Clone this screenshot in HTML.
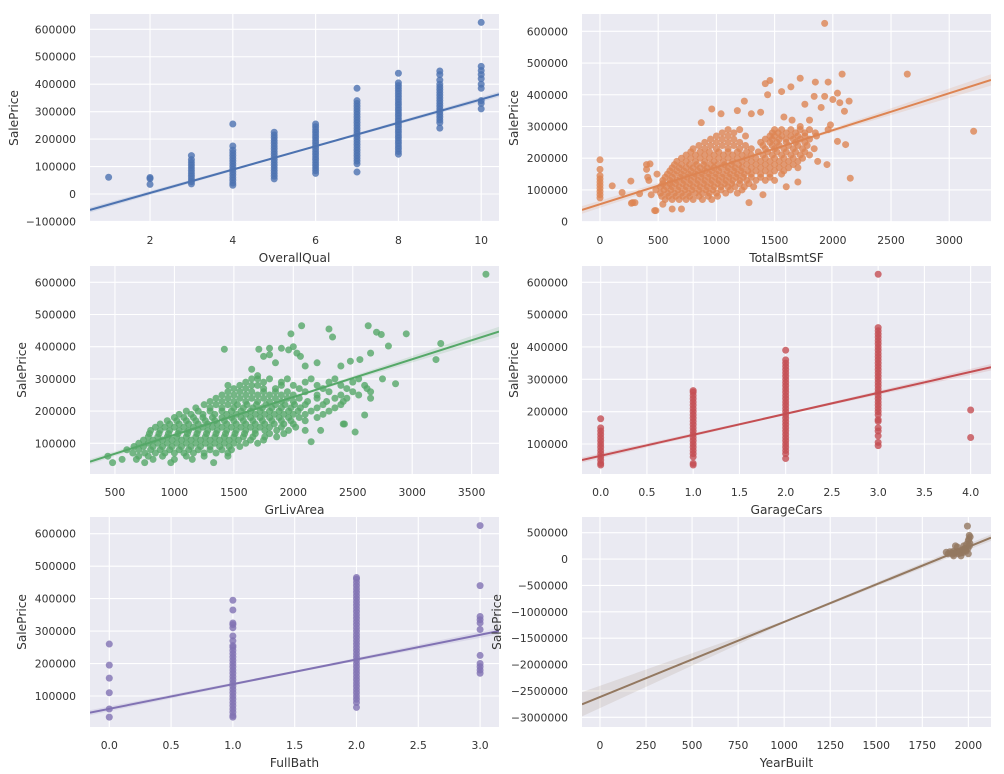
<!DOCTYPE html>
<html><head><meta charset="utf-8">
<style>
html,body{margin:0;padding:0;background:#fff;}
svg{display:block;font-family:"DejaVu Sans","Liberation Sans",sans-serif;}
</style></head>
<body>
<svg id="chart" width="1004" height="774" viewBox="0 0 1004 774"></svg>
<script>
// ---------- Data (prices in thousands) ----------
const qualLevels = [1,2,3,4,5,6,7,8,9,10];
const qualPricesK = [
 [61],
 [60,56,35],
 [37,45,55,65,75,85,95,105,115,125,140],
 [32,40,50,60,70,80,90,100,110,120,130,140,150,160,175,255],
 [55,65,75,85,95,105,115,125,135,145,155,165,175,185,195,205,215,225],
 [75,85,95,105,115,125,135,145,155,165,175,185,195,205,215,225,235,245,255],
 [80,110,120,130,140,150,160,170,180,190,200,210,220,230,240,250,260,270,280,290,300,310,320,330,340,385],
 [145,155,165,175,185,195,205,215,225,235,245,255,265,275,285,295,305,315,325,335,345,355,365,375,385,395,405,440],
 [240,260,270,280,290,300,310,320,330,340,350,360,370,380,390,400,415,435,448],
 [310,330,340,385,400,420,435,450,465,625]
];
const bsmtSF = [0,0,0,0,0,0,0,0,0,0,105,190,265,270,280,300,340,400,400,410,420,430,440,470,480,490,
 560,620,680,740,800,880,960,
 520,580,640,700,760,820,880,940,1000,1080,1180,
 520,570,620,680,740,800,860,920,980,1040,1100,1160,1240,1320,
 540,600,660,720,780,840,900,960,1020,1080,1140,1200,1260,1340,1420,1500,
 580,640,700,760,820,880,940,1000,1060,1120,1180,1240,1300,1380,1460,1560,
 620,680,740,800,860,920,980,1040,1100,1160,1220,1300,1380,1460,1540,1620,1700,
 660,740,820,900,980,1060,1140,1220,1300,1380,1460,1540,1620,1700,
 740,820,900,980,1060,1140,1220,1300,1400,1480,1560,1640,1720,1800,
 800,900,1000,1100,1200,1300,1420,1500,1580,1660,1740,1840,
 900,1000,1100,1200,1380,1460,1520,1600,1680,1760,
 1000,1100,1250,1460,1500,1560,1640,1700,1760,1860,
 1100,1200,1500,1560,1640,1720,1800,1960,
 870,960,1040,1180,1240,1300,1380,1420,1460,1440,1560,1580,1640,1720,1760,1840,1850,1900,1930,1960,2000,2040,2060,2080,2100,2140,1650,1800,1720,1980,
 1930,2640,3210,2150,2110,2040,1950,1870,1700,1600,1280,1400,700,620,480,540];
const bsmtPriceK = [75,85,95,105,115,125,135,145,165,195,113,92,128,58,60,60,88,180,165,140,130,182,85,35,100,150,
 70,70,70,70,70,70,70,
 90,90,90,90,90,90,90,90,90,90,90,
 110,110,110,110,110,110,110,110,110,110,110,110,110,110,
 130,130,130,130,130,130,130,130,130,130,130,130,130,130,130,130,
 150,150,150,150,150,150,150,150,150,150,150,150,150,150,150,150,
 170,170,170,170,170,170,170,170,170,170,170,170,170,170,170,170,170,
 190,190,190,190,190,190,190,190,190,190,190,190,190,190,
 210,210,210,210,210,210,210,210,210,210,210,210,210,210,
 230,230,230,230,230,230,230,230,230,230,230,230,
 250,250,250,250,250,250,250,250,250,250,
 270,270,270,270,270,270,270,270,270,270,
 290,290,290,290,290,290,290,290,
 312,355,340,350,380,340,345,435,445,400,410,330,425,452,370,395,440,360,395,440,385,405,375,465,348,380,320,320,300,305,
 625,465,285,137,243,253,180,190,125,110,60,85,40,40,35,55];
const bsmtSF2 = [530,590,650,710,770,850,930,1010,
 550,610,670,730,790,850,910,970,1040,1120,1220,
 540,600,650,710,770,830,890,950,1010,1070,1130,1200,1280,
 560,620,690,750,810,870,930,990,1050,1110,1170,1230,1300,1380,1460,
 600,660,720,780,840,900,960,1020,1090,1150,1210,1270,1340,1420,1500,1580,
 640,700,770,830,890,950,1010,1070,1130,1190,1260,1340,1420,1500,1580,1660,
 700,780,860,940,1020,1100,1180,1260,1340,1420,1500,1580,1660,1740,
 780,860,940,1020,1100,1180,1260,1360,1440,1520,1600,1680,1760,
 850,950,1050,1150,1250,1400,1480,1540,1620,1700,1780,
 950,1050,1150,1420,1480,1540,1600,1660,1720,1800,
 1050,1150,1480,1530,1600,1680,1760,1850];
const bsmtPriceK2 = [80,80,80,80,80,80,80,80,
 100,100,100,100,100,100,100,100,100,100,100,
 120,120,120,120,120,120,120,120,120,120,120,120,120,
 140,140,140,140,140,140,140,140,140,140,140,140,140,140,140,
 160,160,160,160,160,160,160,160,160,160,160,160,160,160,160,160,
 180,180,180,180,180,180,180,180,180,180,180,180,180,180,180,180,
 200,200,200,200,200,200,200,200,200,200,200,200,200,200,
 220,220,220,220,220,220,220,220,220,220,220,220,220,
 240,240,240,240,240,240,240,240,240,240,240,
 260,260,260,260,260,260,260,260,260,260,
 280,280,280,280,280,280,280,280];
const livArea = [480,750,970,1330,
 440,700,780,900,1100,1250,1450,
 600,700,800,880,960,1040,1120,1200,1300,1400,1480,
 700,780,860,940,1020,1100,1180,1260,1340,1420,1500,1600,1700,2150,
 780,860,940,1020,1100,1180,1260,1340,1420,1500,1580,1660,1760,1860,
 800,880,960,1040,1120,1200,1280,1360,1440,1520,1600,1680,1760,1860,1960,2100,2230,
 880,960,1040,1120,1200,1280,1360,1440,1520,1600,1680,1760,1840,1920,2000,2420,
 1000,1080,1160,1240,1320,1400,1480,1560,1640,1720,1800,1880,1960,2050,2200,
 1100,1200,1300,1400,1480,1560,1640,1720,1800,1880,1960,2040,2150,2300,
 1250,1350,1450,1530,1610,1690,1770,1850,1930,2010,2100,2250,2400,
 1350,1450,1550,1650,1750,1850,1950,2050,2200,2350,2450,2650,
 1450,1550,1650,1750,1850,1950,2100,2300,2500,2650,
 1450,1550,1650,1700,1900,2000,2200,2400,2600,
 1650,1700,1800,1950,2150,2350,2550,2750,
 1650,1700,1750,1800,1850,1900,1960,2000,2030,2060,1980,2070,2100,2200,2300,2330,2400,2480,2560,2630,2650,2700,2740,2800,2860,2950,3200,3240,3620,1420,1710,1800,2520,2600,2430];
const livPriceK = [40,40,40,40,
 60,60,60,60,60,60,60,
 80,80,80,80,80,80,80,80,80,80,80,
 100,100,100,100,100,100,100,100,100,100,100,100,100,105,
 120,120,120,120,120,120,120,120,120,120,120,120,120,120,
 140,140,140,140,140,140,140,140,140,140,140,140,140,140,140,140,140,
 160,160,160,160,160,160,160,160,160,160,160,160,160,160,160,160,
 180,180,180,180,180,180,180,180,180,180,180,180,180,180,180,
 200,200,200,200,200,200,200,200,200,200,200,200,200,200,
 220,220,220,220,220,220,220,220,220,220,220,220,220,
 240,240,240,240,240,240,240,240,240,240,240,240,
 260,260,260,260,260,260,260,260,260,260,
 280,280,280,280,280,280,280,280,280,
 300,300,300,300,300,300,300,300,
 330,310,370,375,350,395,390,400,380,370,440,465,340,350,455,430,340,355,360,465,380,445,438,402,285,440,360,410,625,392,392,395,135,188,160];
const livArea2 = [560,680,820,1000,1150,
 650,750,840,920,1000,1080,1160,1250,1350,1450,
 660,740,820,900,980,1060,1140,1220,1300,1380,1460,1550,
 740,820,900,980,1060,1140,1220,1300,1380,1460,1540,1640,1750,
 790,870,950,1030,1110,1190,1270,1350,1430,1510,1590,1680,1800,1920,
 840,920,1000,1080,1160,1240,1320,1400,1480,1560,1640,1720,1800,1900,2020,
 940,1020,1100,1180,1260,1340,1420,1500,1580,1660,1740,1820,1900,1980,2100,
 1040,1140,1240,1340,1440,1520,1600,1680,1760,1840,1920,2000,2100,2250,
 1180,1300,1400,1500,1580,1660,1740,1820,1900,1980,2060,2200,2350,
 1300,1400,1500,1600,1700,1800,1900,2000,2120,2280,2420,
 1400,1500,1600,1700,1800,1900,2000,2200,2400,2550,
 1500,1600,1750,1850,2050,2250,2450,2620,
 1600,1750,1900,2100,2300,2500];
const livPriceK2 = [50,50,50,50,50,
 70,70,70,70,70,70,70,70,70,70,
 90,90,90,90,90,90,90,90,90,90,90,90,
 110,110,110,110,110,110,110,110,110,110,110,110,110,
 130,130,130,130,130,130,130,130,130,130,130,130,130,130,
 150,150,150,150,150,150,150,150,150,150,150,150,150,150,150,
 170,170,170,170,170,170,170,170,170,170,170,170,170,170,170,
 190,190,190,190,190,190,190,190,190,190,190,190,190,190,
 210,210,210,210,210,210,210,210,210,210,210,210,210,
 230,230,230,230,230,230,230,230,230,230,230,
 250,250,250,250,250,250,250,250,250,250,
 270,270,270,270,270,270,270,270,
 290,290,290,290,290,290];
const garageLevels = [0,1,2,3,4];
const garagePricesK = [
 [35,40,50,60,70,80,90,100,110,120,130,140,150,178],
 [35,40,60,70,80,90,100,110,120,130,140,150,160,170,180,190,200,210,220,230,240,250,260,265],
 [55,70,80,90,100,110,120,130,140,150,160,170,180,190,200,210,220,230,240,250,260,270,280,290,300,310,320,330,340,350,360,390],
 [95,105,125,140,150,170,175,190,200,210,220,230,240,250,260,270,280,290,300,310,320,330,340,350,360,370,380,390,400,410,420,430,440,450,460,625],
 [120,205]
];
const bathLevels = [0,1,2,3];
const bathPricesK = [
 [35,60,110,155,195,260],
 [35,40,50,60,70,80,90,100,110,120,130,140,150,160,170,180,190,200,210,220,230,240,250,255,270,285,310,320,325,365,395],
 [65,80,90,100,110,120,130,140,150,160,170,180,190,200,210,220,230,240,250,260,270,280,290,300,310,320,330,340,350,360,370,380,390,400,410,420,430,440,450,460,465],
 [170,180,190,200,225,305,325,335,345,440,625]
];
const yearBuilt = [1880,1890,1900,1910,1920,1930,1940,1950,1960,1970,1975,1980,1990,2000,2005,2008,1995,1920,1960,1940,2000,2010,1985,1965,1930,2003,1915,1925,1945,1955,1970,1988,1998,2006];
const yearPriceK = [130,100,140,120,150,130,140,150,160,180,250,200,280,350,450,300,625,60,60,230,100,420,170,130,250,380,90,110,100,110,120,150,200,250];

// regression fits: [intercept (thousands), slope (thousands per unit)]
const fitQual = [-81.4, 42.6];
const fitBsmt = [55.0, 0.1166];
const fitLiv = [8.9, 0.1174];
const fitGarage = [63.5, 64.86];
const fitBath = [60.5, 76.0];
const fitYear = [-2614.1, 1.422];

// ticks
const ticksQualX = [2,4,6,8,10];
const ticksBsmtX = [0,500,1000,1500,2000,2500,3000];
const ticksLivX = [500,1000,1500,2000,2500,3000,3500];
const ticksGarageX = [0,0.5,1,1.5,2,2.5,3,3.5,4];
const ticksBathX = [0,0.5,1,1.5,2,2.5,3];
const ticksYearX = [0,250,500,750,1000,1250,1500,1750,2000];
const ticksPriceA = [-100000,0,100000,200000,300000,400000,500000,600000];
const ticksPriceB = [0,100000,200000,300000,400000,500000,600000];
const ticksPriceC = [100000,200000,300000,400000,500000,600000];
const ticksPriceD = [-3000000,-2500000,-2000000,-1500000,-1000000,-500000,0,500000];

const NS='http://www.w3.org/2000/svg';
const svg=document.getElementById('chart');
function mk(tag,attrs,parent){const e=document.createElementNS(NS,tag);for(const k in attrs)e.setAttribute(k,attrs[k]);(parent||svg).appendChild(e);return e;}

function flatten(levels, groups){const xs=[],ys=[];levels.forEach((l,i)=>groups[i].forEach(v=>{xs.push(l);ys.push(v);}));return [xs,ys];}

const panels=[
 {name:'overallqual',label:'OverallQual',box:[90,14,499,222],xd:[0.55,10.43],yd:[-102000,655700],xt:ticksQualX,yt:ticksPriceA,pts:flatten(qualLevels,qualPricesK),fit:fitQual,color:'#4C72B0',fmt:v=>String(v),ylx:14,ci:[9,3,9]},
 {name:'totalbsmtsf',label:'TotalBsmtSF',box:[582,14,991,222],xd:[-154.6,3359],yd:[-1000,654500],xt:ticksBsmtX,yt:ticksPriceB,pts:[bsmtSF.concat(bsmtSF2),bsmtPriceK.concat(bsmtPriceK2)],fit:fitBsmt,color:'#DD8452',fmt:v=>String(v),ylx:514,ci:[12,3,18]},
 {name:'grlivarea',label:'GrLivArea',box:[90,266,499,474],xd:[290,3730],yd:[4700,650600],xt:ticksLivX,yt:ticksPriceC,pts:[livArea.concat(livArea2),livPriceK.concat(livPriceK2)],fit:fitLiv,color:'#55A868',fmt:v=>String(v),ylx:22,ci:[8,3,15]},
 {name:'garagecars',label:'GarageCars',box:[582,266,991,474],xd:[-0.202,4.22],yd:[7200,650400],xt:ticksGarageX,yt:ticksPriceC,pts:flatten(garageLevels,garagePricesK),fit:fitGarage,color:'#C44E52',fmt:v=>v.toFixed(1),ylx:514,ci:[8,3,10]},
 {name:'fullbath',label:'FullBath',box:[90,517,499,727],xd:[-0.156,3.153],yd:[4500,651400],xt:ticksBathX,yt:ticksPriceC,pts:flatten(bathLevels,bathPricesK),fit:fitBath,color:'#8172B3',fmt:v=>v.toFixed(1),ylx:22,ci:[8,3,10]},
 {name:'yearbuilt',label:'YearBuilt',box:[582,517,991,727],xd:[-97.7,2123],yd:[-3184000,797700],xt:ticksYearX,yt:ticksPriceD,pts:[yearBuilt,yearPriceK],fit:fitYear,color:'#937860',fmt:v=>String(v),ylx:497,ci:[230,20,60]}
];

panels.forEach(p=>{
 const [x0,y0,x1,y1]=p.box;
 const sx=v=>x0+(v-p.xd[0])/(p.xd[1]-p.xd[0])*(x1-x0);
 const sy=v=>y1-(v-p.yd[0])/(p.yd[1]-p.yd[0])*(y1-y0);
 const g=mk('g',{});
 
 
 const bg=mk('rect',{x:x0,y:y0,width:x1-x0,height:y1-y0,fill:'#EAEAF2'},g);
 
 
 p.xt.forEach(t=>{const x=sx(t);
  const gl=mk('line',{x1:x,x2:x,y1:y0,y2:y1,stroke:'#fff','stroke-width':1.1},g);
  
  
  const tx=mk('text',{x:x,y:y1+22,'text-anchor':'middle','font-size':10.8,fill:'#333'},g);
  
  
  tx.textContent=p.fmt(t);});
 p.yt.forEach(t=>{const y=sy(t);
  const gl=mk('line',{x1:x0,x2:x1,y1:y,y2:y,stroke:'#fff','stroke-width':1.1},g);
  
  
  const tx=mk('text',{x:x0-14,y:y+4,'text-anchor':'end','font-size':10.8,fill:'#333'},g);
  
  
  tx.textContent=String(t).replace('-','\u2212');});
 const clipId='clip-'+p.name;
 const cp=mk('clipPath',{id:clipId},g);mk('rect',{x:x0,y:y0,width:x1-x0,height:y1-y0},cp);
 const inner=mk('g',{'clip-path':'url(#'+clipId+')'},g);
 const [xs,ys]=p.pts;
 xs.forEach((xv,i)=>{
  const c=mk('circle',{cx:sx(xv),cy:sy(ys[i]*1000),r:3.5,fill:p.color,'fill-opacity':0.8},inner);
  
  
 });
 const f=x=>(p.fit[0]+p.fit[1]*x)*1000;
 const xa=p.xd[0],xb=p.xd[1],xm=(xa+xb)/2;
 const hw=[p.ci[0]*1000,p.ci[1]*1000,p.ci[2]*1000];
 const up=[[xa,f(xa)+hw[0]],[xm,f(xm)+hw[1]],[xb,f(xb)+hw[2]]];
 const dn=[[xb,f(xb)-hw[2]],[xm,f(xm)-hw[1]],[xa,f(xa)-hw[0]]];
 const band=mk('polygon',{points:up.concat(dn).map(q=>sx(q[0])+','+sy(q[1])).join(' '),fill:p.color,'fill-opacity':0.15},inner);
 
 
 const ln=mk('line',{x1:sx(xa),y1:sy(f(xa)),x2:sx(xb),y2:sy(f(xb)),stroke:p.color,'stroke-width':2},inner);
 
 
 const xl=mk('text',{x:(x0+x1)/2,y:y1+40,'text-anchor':'middle','font-size':12.2,fill:'#333'},g);
 
 
 xl.textContent=p.label;
 const yc=(y0+y1)/2;
 const yl=mk('text',{x:p.ylx,y:yc,'text-anchor':'middle','font-size':12.2,fill:'#333',transform:'rotate(-90 '+p.ylx+' '+yc+')','dominant-baseline':'central'},g);
 
 
 yl.textContent='SalePrice';
});
</script>
</body></html>
